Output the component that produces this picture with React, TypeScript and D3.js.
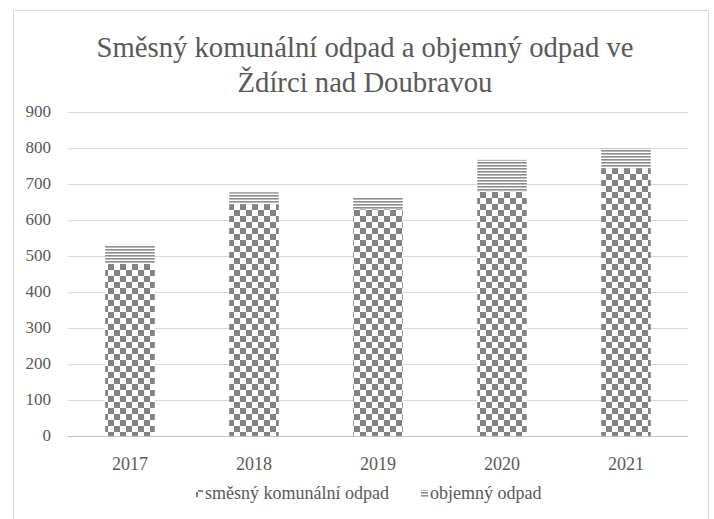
import React from 'react';
import * as d3 from 'd3';

const years = ['2017', '2018', '2019', '2020', '2021'];
const smesnyOdpad = [478, 644, 630, 679, 744];
const objemnyOdpad = [53, 33, 32, 88, 55];
const yTicks = [0, 100, 200, 300, 400, 500, 600, 700, 800, 900];
const titleLines = ['Směsný komunální odpad a objemný odpad ve', 'Ždírci nad Doubravou'];
const legendLabels = ['směsný komunální odpad', 'objemný odpad'];

const W = 714;
const H = 519;
const FONT = "'Liberation Serif', 'DejaVu Serif', serif";
const TEXT = '#595959';

export default function App() {
  const margin = { left: 68, right: 26, top: 112, bottom: 83 };
  const x = d3.scaleBand<string>()
    .domain(years)
    .range([margin.left, W - margin.right])
    .paddingInner(0.6)
    .paddingOuter(0.3);
  const y = d3.scaleLinear().domain([0, 900]).range([H - margin.bottom, margin.top]);

  const txt = (size: number) => ({ fontFamily: FONT, fontSize: size + 'px', fill: TEXT });

  return (
    <div style={{ position: 'fixed', left: 0, top: 0 }}>
      <svg width={W} height={H} style={{ display: 'block', background: '#fff' }}>
        <defs>
          <pattern id="checker" width="12" height="12" patternUnits="userSpaceOnUse">
            <rect width="12" height="12" fill="#fff" />
            <rect width="6" height="6" fill="#838383" />
            <rect x="6" y="6" width="6" height="6" fill="#838383" />
          </pattern>
          <pattern id="hlines" width="4" height="3" patternUnits="userSpaceOnUse">
            <rect width="4" height="3" fill="#fff" />
            <rect width="4" height="1.6" fill="#8c8c8c" />
          </pattern>
        </defs>

        {/* frame */}
        <rect x={13.5} y={10.5} width={695} height={H + 20} fill="#fff" stroke="#d9d9d9" />

        {/* title */}
        {titleLines.map((t, i) => (
          <text key={t} x={365} y={57 + i * 35} textAnchor="middle" style={txt(28.7)}>{t}</text>
        ))}

        {/* gridlines + y labels */}
        {yTicks.map(v => (
          <g key={v}>
            <line x1={margin.left} x2={W - margin.right} y1={Math.round(y(v)) + 0.5} y2={Math.round(y(v)) + 0.5}
              stroke={v === 0 ? '#bfbfbf' : '#d9d9d9'} />
            <text x={51} y={y(v) + 5} textAnchor="end" style={txt(17)}>{v}</text>
          </g>
        ))}

        {/* bars */}
        {years.map((yr, i) => {
          const x0 = x(yr) as number;
          const bw = x.bandwidth();
          const s = smesnyOdpad[i];
          const o = objemnyOdpad[i];
          return (
            <g key={yr}>
              <rect x={x0} width={bw} y={y(s)} height={y(0) - y(s)} fill="url(#checker)" />
              <rect x={x0} width={bw} y={y(s + o)} height={y(s) - y(s + o)} fill="url(#hlines)" />
              <text x={x0 + bw / 2} y={470} textAnchor="middle" style={txt(18)}>{yr}</text>
            </g>
          );
        })}

        {/* legend */}
        <rect x={196} y={490} width={7} height={7} fill="url(#checker)" />
        <text x={205} y={499} style={txt(18)}>{legendLabels[0]}</text>
        <rect x={421} y={490} width={7} height={7} fill="url(#hlines)" />
        <text x={430} y={499} style={txt(18)}>{legendLabels[1]}</text>
      </svg>
    </div>
  );
}
